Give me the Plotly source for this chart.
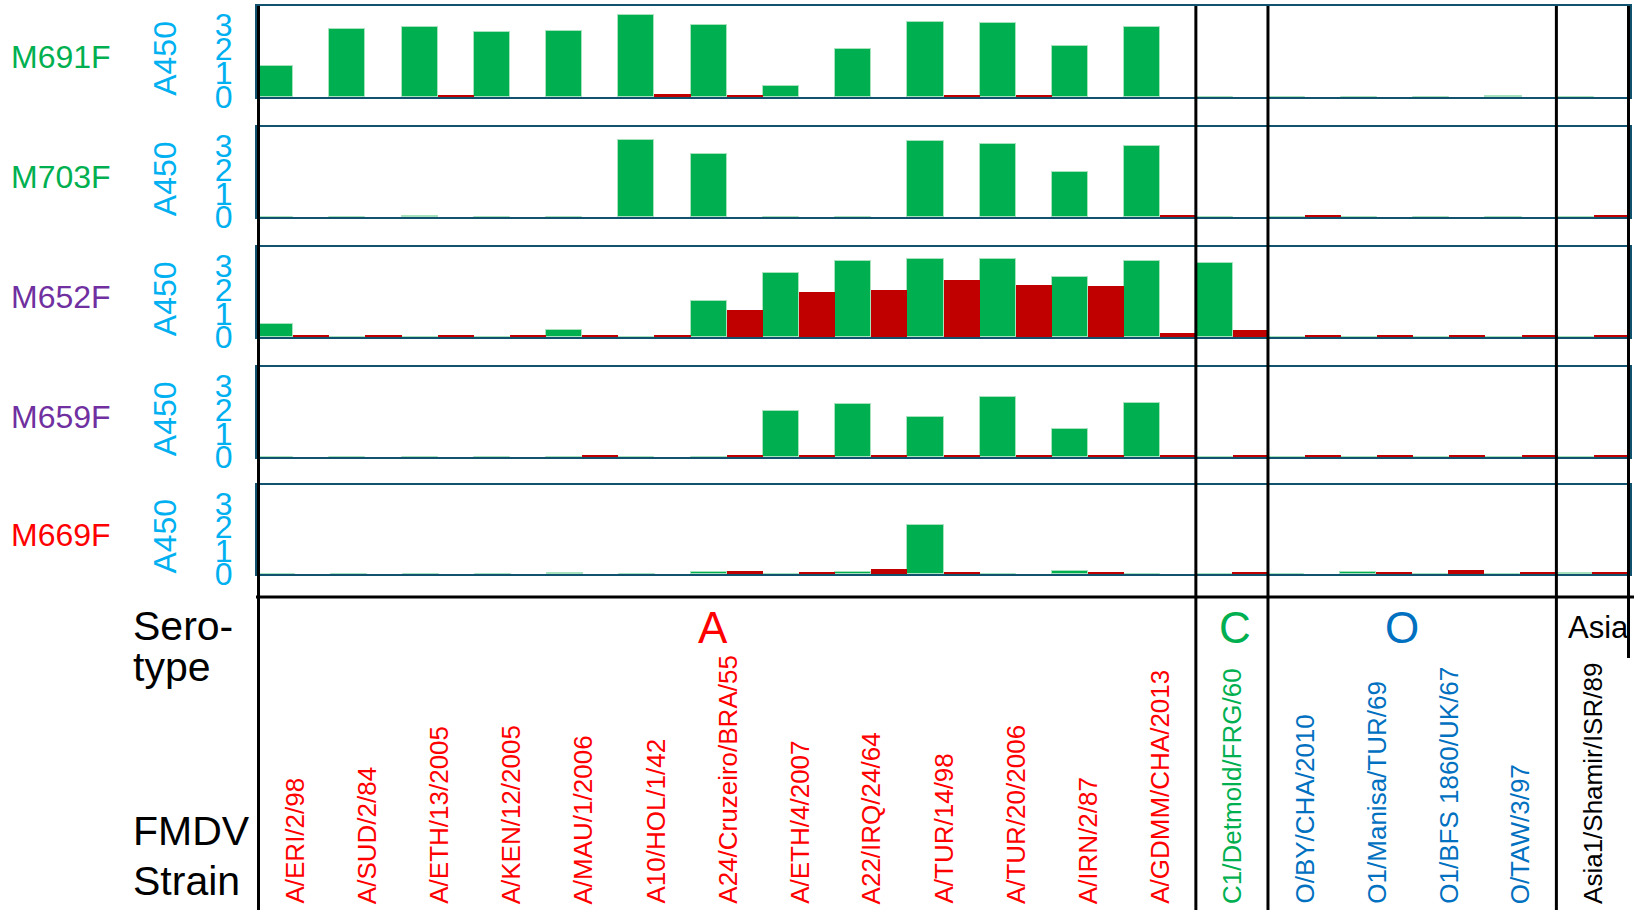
import plotly.graph_objects as go

# ---------------- data ----------------
strains = [
    "A/ERI/2/98", "A/SUD/2/84", "A/ETH/13/2005", "A/KEN/12/2005", "A/MAU/1/2006",
    "A10/HOL/1/42", "A24/Cruzeiro/BRA/55", "A/ETH/4/2007", "A22/IRQ/24/64",
    "A/TUR/14/98", "A/TUR/20/2006", "A/IRN/2/87", "A/GDMM/CHA/2013",
    "C1/Detmold/FRG/60",
    "O/BY/CHA/2010", "O1/Manisa/TUR/69", "O1/BFS 1860/UK/67", "O/TAW/3/97",
    "Asia1/Shamir/ISR/89",
]
serotypes = ["A", "C", "O", "Asia"]
serotype_sizes = [13, 1, 4, 1]
serotype_colors = ["#FF0000", "#00B050", "#0070C0", "#000000"]

mabs = ["M691F", "M703F", "M652F", "M659F", "M669F"]
mab_colors = ["#00B050", "#00B050", "#7030A0", "#7030A0", "#FF0000"]

green_M691F = [1.31, 2.84, 2.93, 2.71, 2.74, 3.44, 2.99, 0.46, 2.0, 3.14, 3.10, 2.14, 2.93, 0, 0, 0, 0, 0.05, 0]
red_M691F = [0, 0, 0.05, 0, 0, 0.14, 0.05, 0, 0, 0.05, 0.05, 0, 0, 0, 0, 0, 0, 0, 0]

green_M703F = [0, 0, 0.05, 0, 0, 3.27, 2.66, 0, 0, 3.19, 3.10, 1.92, 3.01, 0, 0, 0, 0, 0, 0]
red_M703F = [0, 0, 0, 0, 0, 0, 0, 0, 0, 0, 0, 0, 0.05, 0, 0.05, 0, 0, 0, 0.05]

green_M652F = [0.53, 0, 0, 0, 0.28, 0.02, 1.5, 2.7, 3.19, 3.31, 3.31, 2.52, 3.21, 3.14, 0, 0.02, 0, 0.02, 0.02]
red_M652F = [0.05, 0.05, 0.05, 0.05, 0.05, 0.05, 1.16, 1.91, 2.0, 2.4, 2.2, 2.17, 0.16, 0.29, 0.05, 0.05, 0.05, 0.05, 0.05]

green_M659F = [0, 0, 0, 0, 0, 0, 0.02, 1.95, 2.25, 1.68, 2.52, 1.2, 2.3, 0.02, 0, 0, 0, 0, 0]
red_M659F = [0, 0, 0, 0, 0.05, 0, 0.05, 0.05, 0.05, 0.05, 0.05, 0.05, 0.05, 0.05, 0.05, 0.05, 0.05, 0.05, 0.05]

green_M669F = [0, 0, 0, 0, 0.03, 0, 0.1, 0, 0.07, 2.08, 0, 0.14, 0, 0, 0, 0.08, 0, 0, 0.06]
red_M669F = [0, 0, 0, 0, 0, 0, 0.11, 0.07, 0.2, 0.05, 0, 0.05, 0, 0.05, 0, 0.08, 0.15, 0.05, 0.08]

green_series = [green_M691F, green_M703F, green_M652F, green_M659F, green_M669F]
red_series = [red_M691F, red_M703F, red_M652F, red_M659F, red_M669F]

yticks = [0, 1, 2, 3]

# ---------------- layout helpers ----------------
W, H = 1637, 910
FONT = "Liberation Sans, Arial, sans-serif"
GREEN = "#00B050"
RED = "#C00000"
TEAL = "#11536F"
CYAN = "#00B0F0"


def py(px):
    return 1 - px / H


def pxx(px):
    return px / W


panel_px = [(6, 97), (127, 217), (247, 337), (367, 457), (485, 574)]
x_domain = [pxx(257), pxx(1630)]

fig = go.Figure()
layout = dict(
    width=W, height=H, autosize=False,
    margin=dict(l=0, r=0, t=0, b=0, pad=0, autoexpand=False),
    paper_bgcolor="white", plot_bgcolor="white",
    showlegend=False, barmode="group", bargap=0, bargroupgap=0,
    font=dict(family=FONT),
)

annotations = []
shapes = []

for k in range(5):
    n = k + 1
    xa = "x" if n == 1 else f"x{n}"
    ya = "y" if n == 1 else f"y{n}"
    fig.add_trace(go.Bar(
        x=strains, y=green_series[k], xaxis=xa, yaxis=ya,
        marker=dict(color=GREEN, line=dict(color="#A6E3BD", width=1)),
        hoverinfo="x+y",
    ))
    fig.add_trace(go.Bar(
        x=strains, y=red_series[k], xaxis=xa, yaxis=ya,
        marker=dict(color=RED, line=dict(width=0)),
        hoverinfo="x+y",
    ))
    top, bot = panel_px[k]
    layout[f"xaxis{n}" if n > 1 else "xaxis"] = dict(
        domain=x_domain, anchor=ya, type="category",
        categoryorder="array", categoryarray=strains,
        showticklabels=False, ticks="", showgrid=False, zeroline=False,
        showline=True, mirror=True, linecolor=TEAL, linewidth=2,
        layer="below traces", fixedrange=True, automargin=False,
    )
    layout[f"yaxis{n}" if n > 1 else "yaxis"] = dict(
        domain=[py(bot), py(top)], anchor=xa, range=[0, 3.8],
        tickvals=yticks, ticktext=[str(v) for v in yticks],
        tickfont=dict(size=32, color=CYAN, family=FONT),
        ticks="", ticklabelstandoff=16,
        showgrid=False, zeroline=False,
        showline=True, mirror=True, linecolor=TEAL, linewidth=2,
        layer="below traces", fixedrange=True, automargin=False,
    )
    # row label (mAb name)
    annotations.append(dict(
        text=mabs[k], xref="paper", x=pxx(9), xanchor="left",
        yref=f"{ya} domain", y=0.44, yanchor="middle", showarrow=False,
        font=dict(size=32, color=mab_colors[k], family=FONT),
    ))
    # y axis title
    annotations.append(dict(
        text="A450", xref="paper", x=pxx(165), xanchor="center",
        yref=f"{ya} domain", y=0.42, yanchor="middle", showarrow=False,
        textangle=-90, font=dict(size=32, color=CYAN, family=FONT),
    ))

# strain labels along the bottom
strain_colors = []
for s, size, c in zip(serotypes, serotype_sizes, serotype_colors):
    strain_colors += [c] * size
for s, c in zip(strains, strain_colors):
    annotations.append(dict(
        text=s, xref="x5", x=s, xanchor="center",
        yref="paper", y=py(906), yanchor="bottom", showarrow=False,
        textangle=-90, font=dict(size=26, color=c, family=FONT),
    ))

# serotype labels
sero_pos = {"A": 713, "C": 1235, "O": 1402}
for s, c in zip(serotypes, serotype_colors):
    if s in sero_pos:
        annotations.append(dict(
            text=s, xref="paper", x=pxx(sero_pos[s]), xanchor="center",
            yref="paper", y=py(627), yanchor="middle", showarrow=False,
            font=dict(size=44, color=c, family=FONT),
        ))
    else:
        annotations.append(dict(
            text=s, xref="paper", x=pxx(1566), xanchor="left",
            yref="paper", y=py(627), yanchor="middle", showarrow=False,
            font=dict(size=31, color=c, family=FONT),
        ))

for txt, yc in [("Sero-", 626), ("type", 667), ("FMDV", 831), ("Strain", 881)]:
    annotations.append(dict(
        text=txt, xref="paper", x=pxx(131), xanchor="left",
        yref="paper", y=py(yc), yanchor="middle", showarrow=False,
        font=dict(size=41, color="black", family=FONT),
    ))

# black divider lines between serotype groups
bounds = [-0.5]
acc = -0.5
for size in serotype_sizes:
    acc += size
    bounds.append(acc)
for i, b in enumerate(bounds):
    y0 = py(658) if i == len(bounds) - 1 else 0
    shapes.append(dict(
        type="line", xref="x5", yref="paper", x0=b, x1=b, y0=y0, y1=py(6),
        line=dict(color="black", width=3), layer="above",
    ))
shapes.append(dict(
    type="line", xref="paper", yref="paper", x0=pxx(256), x1=pxx(1634),
    y0=py(597), y1=py(597), line=dict(color="black", width=3), layer="above",
))

layout["annotations"] = annotations
layout["shapes"] = shapes
fig.update_layout(**layout)
fig.write_html("out.html")
